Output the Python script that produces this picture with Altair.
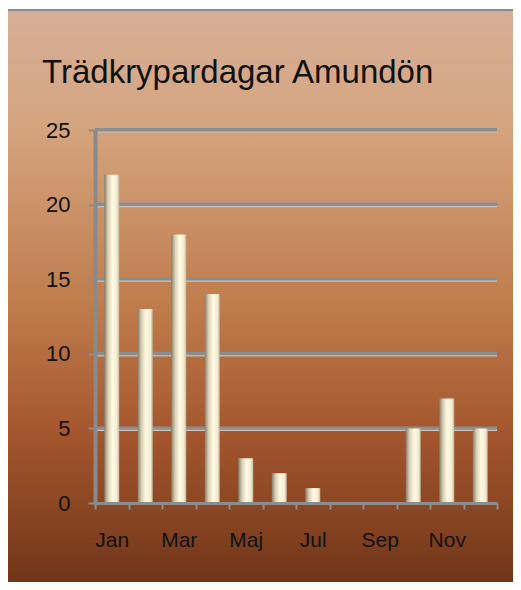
import altair as alt
import pandas as pd

months = ["Jan", "Feb", "Mar", "Apr", "Maj", "Jun", "Jul", "Aug", "Sep", "Okt", "Nov", "Dec"]
days = [22, 13, 18, 14, 3, 2, 1, 0, 0, 5, 7, 5]
shown_labels = ["Jan", "Mar", "Maj", "Jul", "Sep", "Nov"]
y_ticks = [5, 10, 15, 20, 25]
title_text = "Trädkrypardagar Amundön"

df = pd.DataFrame({"month": months, "days": days})
grid_df = pd.DataFrame({"v": y_ticks})

W, H = 402, 373
FONT = "Liberation Sans"

bg = alt.Chart(alt.Data(values=[{"k": 1}])).mark_rect(
    fill=alt.LinearGradient(
        gradient="linear", x1=0, y1=0, x2=0, y2=1,
        stops=[
            alt.GradientStop(offset=0.0, color="#d7af98"),
            alt.GradientStop(offset=0.2, color="#d4a47e"),
            alt.GradientStop(offset=0.5, color="#c07c4c"),
            alt.GradientStop(offset=0.72, color="#a4562d"),
            alt.GradientStop(offset=1.0, color="#6a3216"),
        ],
    ),
    stroke="#8a8a8a", strokeWidth=2,
).encode(
    x=alt.value(-88), x2=alt.value(440), y=alt.value(-120), y2=alt.value(470)
)

title = alt.Chart(alt.Data(values=[{"t": title_text}])).mark_text(
    font=FONT, fontSize=33, align="left", baseline="alphabetic", color="#111111"
).encode(x=alt.value(-53), y=alt.value(-47), text="t:N")

yscale = alt.Scale(domain=[0, 25])

grid_dark = alt.Chart(grid_df).mark_rule(color="#8d8d8d", strokeWidth=4).encode(
    y=alt.Y("v:Q", scale=yscale), x=alt.value(0), x2=alt.value(W)
)
grid_light = alt.Chart(grid_df).mark_rule(color="#c4c4c4", strokeWidth=1.2, yOffset=2).encode(
    y=alt.Y("v:Q", scale=yscale), x=alt.value(0), x2=alt.value(W)
)

bars = alt.Chart(df).mark_bar(
    size=15,
    fill=alt.LinearGradient(
        gradient="linear", x1=0, y1=0, x2=1, y2=0,
        stops=[
            alt.GradientStop(offset=0.0, color="#857c6a"),
            alt.GradientStop(offset=0.25, color="#d8cfb4"),
            alt.GradientStop(offset=0.55, color="#fffbe4"),
            alt.GradientStop(offset=0.85, color="#f3ebcf"),
            alt.GradientStop(offset=1.0, color="#bdb39a"),
        ],
    ),
).encode(
    x=alt.X(
        "month:N", sort=months, title=None,
        scale=alt.Scale(paddingInner=0, paddingOuter=0),
        axis=alt.Axis(
            labelExpr="indexof(['" + "','".join(shown_labels) + "'], datum.label) >= 0 ? datum.label : ''",
            labelAngle=0, labelFont=FONT, labelFontSize=21, labelColor="#111111",
            labelPadding=20, tickBand="extent", tickSize=6, tickColor="#8d8d8d", tickWidth=2,
            domainColor="#8d8d8d", domainWidth=3, grid=False, zindex=2,
        ),
    ),
    y=alt.Y(
        "days:Q", scale=yscale, title=None,
        axis=alt.Axis(
            values=[0, 5, 10, 15, 20, 25], labelFont=FONT, labelFontSize=22, labelColor="#111111",
            labelPadding=18, tickSize=7, tickColor="#8d8d8d", tickWidth=2,
            domainColor="#8a8a8a", domainWidth=4, grid=False, zindex=2,
        ),
    ),
)

chart = alt.layer(bg, title, grid_dark, grid_light, bars).properties(
    width=W, height=H,
    autosize=alt.AutoSizeParams(type="none"),
    padding={"left": 87, "top": 122, "right": 16, "bottom": 79},
    background="white",
).configure_view(stroke=None)

chart.save("out.html", embed_options={"renderer": "svg", "actions": False})
